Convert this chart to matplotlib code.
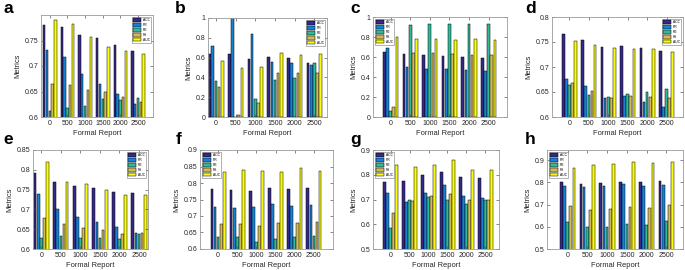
import numpy as np
import matplotlib
matplotlib.use('Agg')
import matplotlib.pyplot as plt
from matplotlib.ticker import FormatStrFormatter

plt.rcParams['font.family'] = ['Liberation Sans', 'DejaVu Sans']

reports = ['0', '500', '1000', '1500', '2000', '2500']
metrics = ['ACC', 'PR', 'RE', 'FS', 'AUC']
colors = ['#352a87', '#1483d4', '#33b89a', '#d1ba59', '#f9fb0e']

# values per panel: rows = ACC, PR, RE, FS, AUC
vals_a = [[0.780, 0.776, 0.761, 0.754, 0.741, 0.729],
          [0.731, 0.718, 0.685, 0.665, 0.645, 0.625],
          [0.611, 0.618, 0.622, 0.635, 0.633, 0.637],
          [0.664, 0.663, 0.652, 0.650, 0.639, 0.630],
          [0.790, 0.783, 0.757, 0.737, 0.730, 0.723]]
vals_b = [[0.640, 0.640, 0.585, 0.610, 0.600, 0.545],
          [0.720, 1.000, 0.835, 0.560, 0.550, 0.530],
          [0.360, 0.005, 0.180, 0.370, 0.390, 0.550],
          [0.300, 0.020, 0.140, 0.445, 0.440, 0.440],
          [0.565, 0.500, 0.510, 0.650, 0.630, 0.640]]
vals_c = [[0.650, 0.635, 0.620, 0.610, 0.600, 0.590],
          [0.690, 0.500, 0.480, 0.480, 0.470, 0.460],
          [0.060, 0.920, 0.930, 0.935, 0.935, 0.935],
          [0.100, 0.645, 0.640, 0.630, 0.625, 0.620],
          [0.800, 0.785, 0.780, 0.775, 0.780, 0.770]]
vals_d = [[0.766, 0.755, 0.741, 0.743, 0.738, 0.732],
          [0.676, 0.662, 0.638, 0.642, 0.631, 0.620],
          [0.664, 0.644, 0.640, 0.646, 0.651, 0.657],
          [0.669, 0.652, 0.639, 0.643, 0.640, 0.638],
          [0.752, 0.744, 0.738, 0.736, 0.736, 0.730]]
vals_e = [[0.792, 0.770, 0.760, 0.754, 0.745, 0.742],
          [0.740, 0.700, 0.682, 0.669, 0.655, 0.640],
          [0.627, 0.632, 0.627, 0.628, 0.625, 0.638],
          [0.678, 0.663, 0.652, 0.647, 0.638, 0.640],
          [0.820, 0.770, 0.765, 0.749, 0.736, 0.737]]
vals_f = [[0.781, 0.780, 0.777, 0.784, 0.782, 0.785],
          [0.726, 0.724, 0.726, 0.737, 0.729, 0.733],
          [0.635, 0.636, 0.622, 0.631, 0.636, 0.639],
          [0.677, 0.677, 0.669, 0.679, 0.679, 0.683],
          [0.833, 0.839, 0.836, 0.833, 0.846, 0.836]]
vals_g = [[0.770, 0.776, 0.800, 0.811, 0.790, 0.788],
          [0.727, 0.689, 0.727, 0.757, 0.716, 0.705],
          [0.583, 0.697, 0.709, 0.697, 0.683, 0.700],
          [0.646, 0.692, 0.715, 0.723, 0.697, 0.700],
          [0.840, 0.831, 0.838, 0.858, 0.820, 0.820]]
vals_h = [[0.803, 0.793, 0.796, 0.802, 0.800, 0.806],
          [0.784, 0.778, 0.783, 0.790, 0.785, 0.787],
          [0.622, 0.597, 0.601, 0.613, 0.607, 0.628],
          [0.695, 0.674, 0.680, 0.689, 0.685, 0.698],
          [0.866, 0.878, 0.883, 0.889, 0.888, 0.890]]

W, H = 685, 270
fig = plt.figure(figsize=(6.85, 2.7), dpi=100)

# name, data, box in pixels (left, right, top, bottom), xlim, ylim, yticks, legend loc, letter x
panels = [
    ('a', vals_a, (41, 153, 15, 117), (0.5, 6.85), (0.6, 0.8), [0.6, 0.65, 0.7, 0.75], 'upper right', 3),
    ('b', vals_b, (208, 327, 18, 117), (0.6, 6.64), (0, 1), [0, 0.2, 0.4, 0.6, 0.8, 1], 'upper right', 175),
    ('c', vals_c, (373, 507, 17, 117), (0.1, 6.94), (0, 1), [0, 0.2, 0.4, 0.6, 0.8, 1], 'upper left', 350),
    ('d', vals_d, (552, 683, 17, 117), (0.1, 6.85), (0.6, 0.8), [0.6, 0.65, 0.7, 0.75, 0.8], 'upper right', 525),
    ('e', vals_e, (33, 148, 150, 249), (0.57, 6.46), (0.6, 0.85), [0.6, 0.65, 0.7, 0.75, 0.8, 0.85], 'upper right', 3),
    ('f', vals_f, (200, 333, 150, 249), (0.05, 7.0), (0.6, 0.9), [0.6, 0.65, 0.7, 0.75, 0.8, 0.85, 0.9], 'upper left', 176),
    ('g', vals_g, (373, 499, 150, 249), (0.07, 6.72), (0.5, 0.9), [0.5, 0.6, 0.7, 0.8, 0.9], 'upper left', 350),
    ('h', vals_h, (547, 683, 150, 249), (-0.04, 6.84), (0.5, 0.945), [0.5, 0.6, 0.7, 0.8, 0.9], 'upper left', 525),
]

x = np.arange(1, len(reports) + 1)
for name, data, box, xl, yl, yt, loc, lx in panels:
    l, r, t, b = box
    ax = fig.add_axes([l / W, 1 - b / H, (r - l) / W, (b - t) / H])
    for i, m in enumerate(metrics):
        ax.bar(x + (i - 2) * 0.16, data[i], width=0.135, color=colors[i],
               edgecolor='black', linewidth=0.35, label=m)
    ax.set_xlim(xl)
    ax.set_ylim(yl)
    ax.set_xticks(x)
    ax.set_xticklabels(reports)
    ax.set_yticks(yt)
    ax.yaxis.set_major_formatter(FormatStrFormatter('%g'))
    ax.tick_params(direction='in', top=True, right=True, length=2, width=0.5,
                   labelsize=5, colors='#555555', labelcolor='#262626', pad=2)
    for s in ax.spines.values():
        s.set_color('#9a9a9a')
        s.set_linewidth(0.6)
    ax.set_xlabel('Formal Report', fontsize=5.4, color='#262626', labelpad=2)
    ax.set_ylabel('Metrics', fontsize=5.4, color='#262626', labelpad=2)
    leg = ax.legend(loc=loc, fontsize=2.4, handlelength=2.4, handleheight=1.3,
                    labelspacing=0.25, borderpad=0.4, handletextpad=0.4,
                    borderaxespad=0.6, fancybox=False, framealpha=1)
    leg.get_frame().set_edgecolor('#777777')
    leg.get_frame().set_linewidth(0.4)
    ly = 13 if t < 100 else 144
    fig.text(lx / W, 1 - ly / H, name, fontsize=12.5, fontweight='bold',
             ha='left', va='baseline')

fig.savefig('out.png', dpi=100, facecolor='white')
